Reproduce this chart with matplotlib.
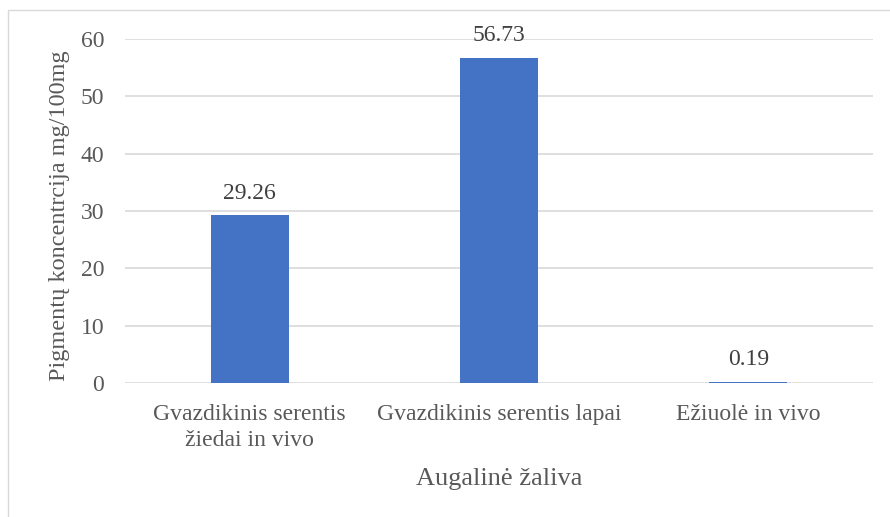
import matplotlib.pyplot as plt
from matplotlib.patches import Rectangle

categories = ["Gvazdikinis serentis\nžiedai in vivo", "Gvazdikinis serentis lapai", "Ežiuolė in vivo"]
values = [29.26, 56.73, 0.19]
yticks = [0, 10, 20, 30, 40, 50, 60]

plt.rcParams['font.family'] = ['Liberation Serif', 'DejaVu Serif']
text_col = '#595959'

fig = plt.figure(figsize=(8.9, 5.17), dpi=100)
ax = fig.add_axes([125 / 890, 1 - 383 / 517, (873 - 125) / 890, (383 - 39) / 517])

# chart border
fig.patches.append(Rectangle((8 / 890, -0.01), 1.0, 1 - 10 / 517 + 0.01, transform=fig.transFigure,
                             fill=False, edgecolor='#D9D9D9', linewidth=1.0))

x = list(range(len(categories)))
bars = ax.bar(x, values, width=0.313, color='#4472C4', zorder=3)

for xi, v in zip(x, values):
    ax.annotate(f"{v:.2f}", (xi, v), xytext=(0, 12), textcoords='offset points',
                ha='center', va='baseline', fontsize=17, color='#404040')

ax.set_ylim(0, 60)
ax.set_xlim(-0.5, 2.5)
ax.set_yticks(yticks)
ax.set_xticks(x)
ax.set_xticklabels(categories, fontsize=17, color=text_col, linespacing=1.3)
ax.tick_params(axis='y', labelsize=17, labelcolor=text_col, length=0, pad=15)
ax.tick_params(axis='x', length=0, pad=15)
ax.yaxis.grid(True, color='#D9D9D9', linewidth=1.2, zorder=0)
for s in ax.spines.values():
    s.set_visible(False)

ax.set_ylabel("Pigmentų koncentrcija mg/100mg", fontsize=17.5, color=text_col)
ax.yaxis.set_label_coords(-(125 - 59) / 748, (383 - 216) / 344)
ax.set_xlabel("Augalinė žaliva", fontsize=19, color=text_col)
ax.xaxis.set_label_coords(0.5, -(479 - 383) / 344)
ax.xaxis.label.set_va('center')
ax.yaxis.label.set_va('center')

fig.savefig("out.png", dpi=100)
